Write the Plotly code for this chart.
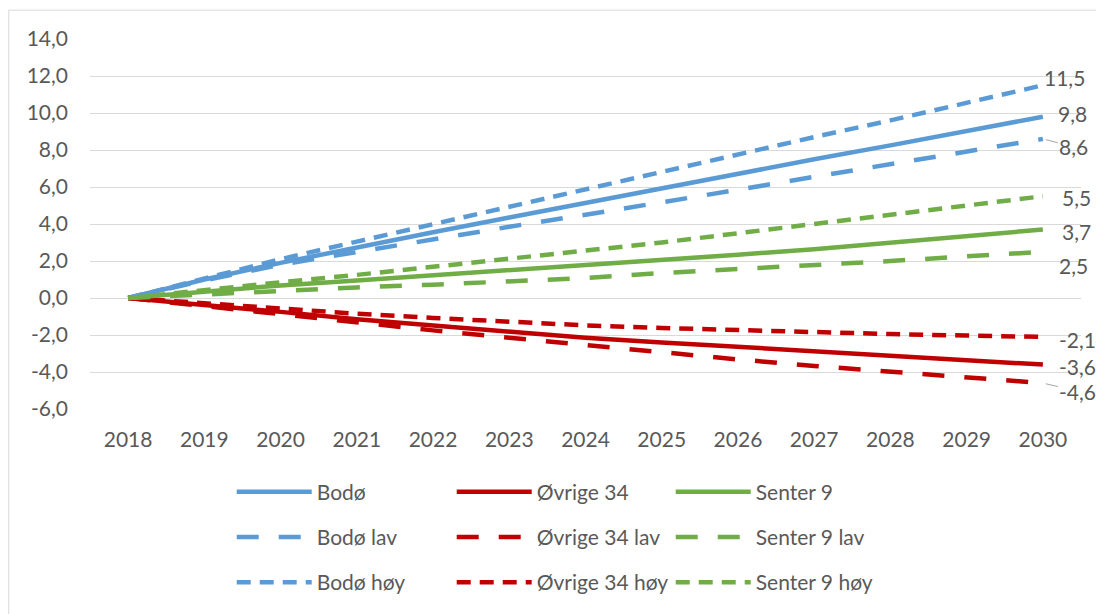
import plotly.graph_objects as go

# ---------------- data ----------------
years = [2018, 2019, 2020, 2021, 2022, 2023, 2024, 2025, 2026, 2027, 2028, 2029, 2030]

bodo      = [0, 1.0, 1.9, 2.75, 3.55, 4.35, 5.15, 5.95, 6.75, 7.5, 8.25, 9.05, 9.8]
bodo_lav  = [0, 0.95, 1.8, 2.5, 3.2, 3.85, 4.5, 5.15, 5.85, 6.55, 7.25, 7.95, 8.6]
bodo_hoy  = [0, 1.05, 2.1, 3.05, 4.0, 4.95, 5.9, 6.85, 7.75, 8.7, 9.6, 10.55, 11.5]

ovrige      = [0, -0.35, -0.75, -1.15, -1.5, -1.82, -2.15, -2.4, -2.65, -2.9, -3.13, -3.37, -3.6]
ovrige_lav  = [0, -0.45, -0.9, -1.35, -1.75, -2.15, -2.55, -2.95, -3.32, -3.67, -4.0, -4.3, -4.6]
ovrige_hoy  = [0, -0.3, -0.6, -0.85, -1.08, -1.3, -1.48, -1.62, -1.75, -1.86, -1.95, -2.03, -2.1]

senter      = [0, 0.35, 0.68, 0.95, 1.22, 1.5, 1.78, 2.06, 2.34, 2.64, 2.98, 3.33, 3.7]
senter_lav  = [0, 0.2, 0.4, 0.57, 0.72, 0.9, 1.08, 1.35, 1.55, 1.8, 2.0, 2.25, 2.5]
senter_hoy  = [0, 0.45, 0.85, 1.25, 1.68, 2.12, 2.56, 3.0, 3.5, 4.0, 4.5, 5.0, 5.5]

names = ["Bodø", "Bodø lav", "Bodø høy",
         "Øvrige 34", "Øvrige 34 lav", "Øvrige 34 høy",
         "Senter 9", "Senter 9 lav", "Senter 9 høy"]
values = [bodo, bodo_lav, bodo_hoy,
          ovrige, ovrige_lav, ovrige_hoy,
          senter, senter_lav, senter_hoy]

y_ticks = [-6, -4, -2, 0, 2, 4, 6, 8, 10, 12, 14]
y_ticktext = [f"{v:.1f}".replace(".", ",") for v in y_ticks]

# ---------------- styles ----------------
BLUE, RED, GREEN = "#5B9BD5", "#C00000", "#70AD47"
colors = [BLUE] * 3 + [RED] * 3 + [GREEN] * 3
dashes = ["solid", "22px,20px", "14px,9px"] * 3
legends = ["legend"] * 3 + ["legend2"] * 3 + ["legend3"] * 3
# label offsets (ax, ay) in px from the 2030 point, and leader visibility
label_off = [(30, -3), (31, 8), (22, -8),
             (35, 2), (35, 8), (35, 3),
             (34, 2), (31, 14), (34, 1)]
leader = [False, True, False, False, True, False, False, False, False]

FONT = "Lato, 'Open Sans', sans-serif"
FS = 21
TXT = "#595959"
GRID = "#D9D9D9"

fig = go.Figure()
for i, (nm, vals) in enumerate(zip(names, values)):
    fig.add_trace(go.Scatter(
        x=years, y=vals, name=nm, mode="lines",
        line=dict(color=colors[i], width=4.5, dash=dashes[i]),
        legend=legends[i], legendgroup=nm,
        hoverinfo="skip",
    ))

annotations = []
for i, vals in enumerate(values):
    v = vals[-1]
    ax, ay = label_off[i]
    annotations.append(dict(
        x=years[-1], y=v, xref="x", yref="y",
        text=f"{v:.1f}".replace(".", ","),
        showarrow=True, ax=ax, ay=ay, axref="pixel", ayref="pixel",
        arrowhead=0, arrowwidth=1, standoff=3, startstandoff=0,
        arrowcolor="#A6A6A6" if leader[i] else "rgba(0,0,0,0)",
        font=dict(family=FONT, size=FS, color=TXT),
    ))

leg_common = dict(orientation="v", xanchor="left", yanchor="top",
                  bgcolor="rgba(0,0,0,0)", font=dict(family=FONT, size=FS, color=TXT),
                  tracegroupgap=15, itemwidth=75)

LEG_Y = -0.169

fig.update_layout(
    width=1096, height=606,
    margin=dict(l=82, r=23, t=31, b=202),
    paper_bgcolor="white", plot_bgcolor="white",
    font=dict(family=FONT, size=FS, color=TXT),
    xaxis=dict(range=[2017.5, 2030.5], tickmode="array", tickvals=years,
               ticktext=[str(y) for y in years], showgrid=False, zeroline=False,
               showline=False, ticks="", ticklabelstandoff=16,
               tickfont=dict(family=FONT, size=FS, color=TXT)),
    yaxis=dict(range=[-6, 14], tickmode="array", tickvals=y_ticks,
               ticktext=y_ticktext, showgrid=True, gridcolor=GRID, gridwidth=1,
               zeroline=False, showline=False, ticks="", ticklabelstandoff=21,
               tickfont=dict(family=FONT, size=FS, color=TXT)),
    showlegend=True,
    legend=dict(x=0.143, y=LEG_Y, **leg_common),
    legend2=dict(x=0.365, y=LEG_Y, **leg_common),
    legend3=dict(x=0.586, y=LEG_Y, **leg_common),
    annotations=annotations,
    shapes=[dict(type="rect", xref="paper", yref="paper",
                 x0=-0.082, x1=1.2, y0=-1.0, y1=1.078,
                 line=dict(color=GRID, width=1), fillcolor="rgba(0,0,0,0)",
                 layer="below")],
)

fig.write_html("out.html")
